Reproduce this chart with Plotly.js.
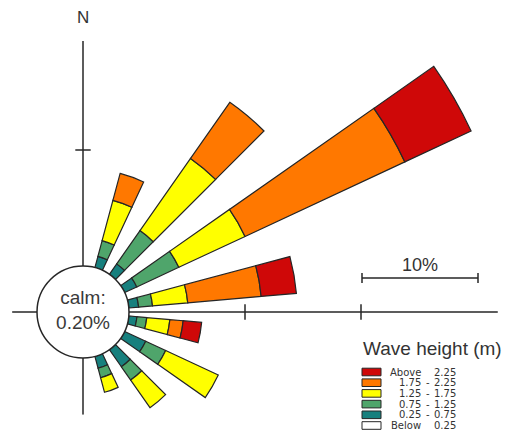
<!DOCTYPE html>
<html>
<head>
<meta charset="utf-8">
<script src="https://cdn.plot.ly/plotly-3.0.1.min.js"></script>
<style>
  html, body { margin: 0; padding: 0; background: #ffffff; }
  #chart { width: 508px; height: 435px; }
</style>
</head>
<body>
<div id="chart"></div>
<script>
// Wave rose: share of time (%) per direction sector, stacked by wave height class.
const directions = [20, 40, 60, 80, 100, 120, 140, 160];   // compass degrees
const calmPct = 0.20;

// Stacked from the centre outwards
const below025  = [0, 0, 0, 0, 0, 0, 0, 0];
const h025to075 = [1.0, 1.1, 1.15, 0.85, 0.7, 2.0, 1.8, 1.05];
const h075to125 = [1.4, 3.5, 4.0, 1.2, 0.85, 1.9, 1.4, 0.85];
const h125to175 = [3.6, 7.6, 6.3, 3.05, 2.0, 5.0, 2.9, 1.3];
const h175to225 = [2.4, 5.9, 15.2, 6.35, 1.15, 0, 0, 0];
const above225  = [0, 0, 6.3, 3.05, 1.6, 0, 0, 0];

const classColors = ['#ffffff', '#17807e', '#4fa56b', '#ffff00', '#ff7800', '#cf0808'];

// Legend rows, listed top to bottom
const legendLeft  = ['Above', '1.75', '1.25', '0.75', '0.25', 'Below'];
const legendRight = ['2.25', '2.25', '1.75', '1.25', '0.75', '0.25'];
const legendColors = ['#cf0808', '#ff7800', '#ffff00', '#4fa56b', '#17807e', '#ffffff'];

// Compass axes: direction and length (%) of each arm, ticks along arms
const axisDirs = [0, 90, 180, 270];
const axisLengths = [19.4, 31.8, 4.9, 2.15];
const northTicks = [10];
const eastTicks = [10, 20];
const scaleBarPct = 10;

const series = [below025, h025to075, h075to125, h125to175, h175to225, above225];

// ---- geometry of the rose on the page ----
const W = 508, H = 435;
const CX = 83, CY = 312;     // centre of the rose, px
const HOLE = 46;             // calm circle radius, px
const PX = 11.6;             // px per percent
const INK = '#262626';
const FONT = 'Liberation Sans, Arial, sans-serif';

function mod(a, n) { return ((a % n) + n) % n; }
function rad(d) { return d * Math.PI / 180; }
// bounding box of a sector on the unit circle, origin included
function sectorBBox(sector) {
  const arc = sector[1] - sector[0];
  const a0 = mod(sector[0], 360), a1 = a0 + arc;
  const ax0 = Math.cos(rad(a0)), ay0 = Math.sin(rad(a0));
  const ax1 = Math.cos(rad(a1)), ay1 = Math.sin(rad(a1));
  let x0, y0, x1, y1;
  if ((a0 <= 90 && a1 >= 90) || (a0 > 90 && a1 >= 450)) y1 = 1;
  else if (ay0 <= 0 && ay1 <= 0) y1 = 0;
  else y1 = Math.max(ay0, ay1);
  if ((a0 <= 180 && a1 >= 180) || (a0 > 180 && a1 >= 540)) x0 = -1;
  else if (ax0 >= 0 && ax1 >= 0) x0 = 0;
  else x0 = Math.min(ax0, ax1);
  if ((a0 <= 270 && a1 >= 270) || (a0 > 270 && a1 >= 630)) y0 = -1;
  else if (ay0 >= 0 && ay1 >= 0) y0 = 0;
  else y0 = Math.min(ay0, ay1);
  if (a1 >= 360) x1 = 1;
  else if (ax0 <= 0 && ax1 <= 0) x1 = 0;
  else x1 = Math.max(ax0, ax1);
  return [x0, y0, x1, y1];
}

const layout = {
  width: W, height: H,
  margin: { l: 0, r: 0, t: 0, b: 0 },
  paper_bgcolor: '#ffffff',
  showlegend: false,
  shapes: [],
  annotations: []
};
const traces = [];
let polarCount = 0;

// A polar subplot sharing the common centre and radial scale, cut to a sector
function addPolar(sector, rmax, R, hole, extra) {
  polarCount++;
  const id = polarCount === 1 ? 'polar' : 'polar' + polarCount;
  const bb = sectorBBox(sector);
  layout[id] = Object.assign({
    domain: {
      x: [(CX + R * bb[0]) / W, (CX + R * bb[2]) / W],
      y: [(H - CY + R * bb[1]) / H, (H - CY + R * bb[3]) / H]
    },
    sector: sector,
    hole: hole,
    bgcolor: 'rgba(0,0,0,0)',
    barmode: 'stack',
    radialaxis: { visible: false, range: [0, rmax] },
    angularaxis: { visible: false, rotation: 90, direction: 'clockwise' }
  }, extra || {});
  return id;
}
function addRosePolar(sector, rmax) {
  const R = HOLE + rmax * PX;
  return addPolar(sector, rmax, R, HOLE / R);
}

// Compass arms
axisDirs.forEach((dir, i) => {
  const m = 90 - dir;
  const id = addRosePolar([m - 2, m + 2], axisLengths[i]);
  traces.push({
    type: 'scatterpolar', subplot: id, mode: 'lines',
    r: [0, axisLengths[i]], theta: [dir, dir],
    line: { color: INK, width: 1.5 }, hoverinfo: 'skip'
  });
  const ticks = dir === 0 ? northTicks : (dir === 90 ? eastTicks : []);
  if (ticks.length) {
    traces.push({
      type: 'scatterpolar', subplot: id, mode: 'markers', cliponaxis: false,
      r: ticks, theta: ticks.map(() => dir),
      marker: { symbol: dir === 0 ? 'line-ew' : 'line-ns', size: 11,
                line: { color: INK, width: 1.5 } },
      hoverinfo: 'skip'
    });
  }
});

// Stacked direction bars, one sector subplot each
directions.forEach((dir, i) => {
  const total = series.reduce((s, arr) => s + arr[i], 0);
  const m = 90 - dir;
  const id = addRosePolar([m - 7, m + 7], total * 1.03 + 0.4);
  series.forEach((arr, k) => {
    if (arr[i] <= 0) return;
    traces.push({
      type: 'barpolar', subplot: id,
      r: [arr[i]], theta: [dir], width: [10],
      marker: { color: classColors[k], line: { color: INK, width: 1.2 } },
      hoverinfo: 'skip'
    });
  });
});

// Calm circle with its label
const calmId = addPolar([0, 360], 1, HOLE, 0, {
  bgcolor: '#ffffff',
  angularaxis: { visible: true, showline: true, linecolor: INK, linewidth: 1.5,
                 showgrid: false, ticks: '', showticklabels: false },
  radialaxis: { visible: false, range: [0, 1] }
});
traces.push({
  type: 'scatterpolar', subplot: calmId, mode: 'text', cliponaxis: false,
  r: [0], theta: [0],
  text: ['calm:<br>' + calmPct.toFixed(2) + '%'],
  textposition: 'middle center',
  textfont: { family: FONT, size: 19, color: '#3a3a3a' },
  hoverinfo: 'skip'
});

// ---- page-pixel helpers for the annotation layer ----
const px = x => x / W;
const py = y => 1 - y / H;

function text(x, y, t, size, anchor, family) {
  layout.annotations.push({
    xref: 'paper', yref: 'paper', x: px(x), y: py(y), text: t,
    showarrow: false, xanchor: anchor || 'center', yanchor: 'middle',
    font: { family: family || FONT, size: size, color: '#333333' }
  });
}

text(CX, 17, 'N', 17);

// 10 % scale bar
const barX0 = 362, barY = 278;
const barX1 = barX0 + scaleBarPct * PX;
const lineStyle = { color: INK, width: 1.5 };
layout.shapes.push(
  { type: 'line', xref: 'paper', yref: 'paper', x0: px(barX0), x1: px(barX1), y0: py(barY), y1: py(barY), line: lineStyle },
  { type: 'line', xref: 'paper', yref: 'paper', x0: px(barX0), x1: px(barX0), y0: py(barY - 5), y1: py(barY + 5), line: lineStyle },
  { type: 'line', xref: 'paper', yref: 'paper', x0: px(barX1), x1: px(barX1), y0: py(barY - 5), y1: py(barY + 5), line: lineStyle }
);
text((barX0 + barX1) / 2, 265, scaleBarPct + '%', 18);

// Wave height legend
text(361, 348, 'Wave height (m)', 19, 'left');
const LEG = 'DejaVu Sans, sans-serif';
legendLeft.forEach((lab, i) => {
  const yc = 372 + i * 10.7;
  layout.shapes.push({
    type: 'rect', xref: 'paper', yref: 'paper',
    x0: px(362), x1: px(381), y0: py(yc - 3.8), y1: py(yc + 3.8),
    fillcolor: legendColors[i], line: { color: INK, width: 1 }
  });
  const ranged = !(lab === 'Above' || lab === 'Below');
  text(423, yc, lab, 10, 'right', LEG);
  if (ranged) text(428, yc, '-', 10, 'center', LEG);
  text(458, yc, legendRight[i], 10, 'right', LEG);
});

Plotly.newPlot('chart', traces, layout, { staticPlot: true, displayModeBar: false });
</script>
</body>
</html>
